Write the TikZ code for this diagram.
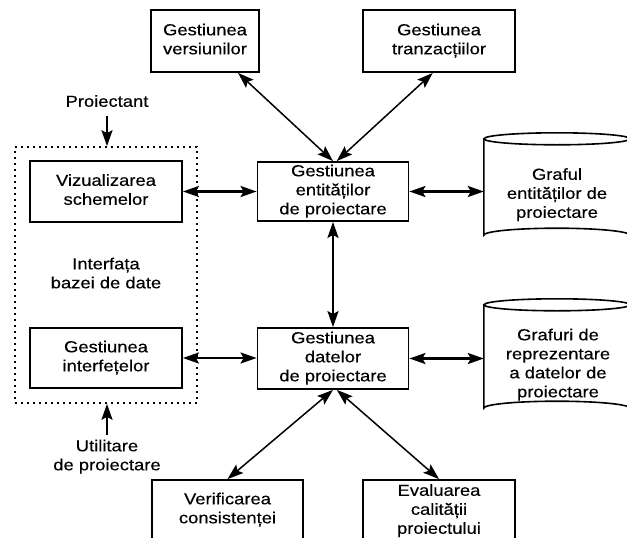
\documentclass[tikz,border=0pt]{standalone}
\usepackage{fontspec}
\setmainfont{Liberation Sans}[FakeBold=0.35]
\usetikzlibrary{arrows.meta}
% centred lines of text, set slightly wide
\newcommand\widelines[1]{\scalebox{1.15}[1]{\begin{tabular}{@{}c@{}}#1\end{tabular}}}

\begin{document}
\begin{tikzpicture}[x=1pt,y=-1pt,
  txt/.style={align=center, inner sep=0pt, font=\fontsize{16}{19}\selectfont},
  box/.style={txt, draw, line width=1.8pt},
  lbl/.style={txt, inner sep=3pt},
  group/.style={draw, line width=1.6pt, dash pattern=on 1.6pt off 4.4pt},
  conn/.style={line width=2.2pt, {Stealth[length=16pt, width=11pt, inset=3pt]}-{Stealth[length=16pt, width=11pt, inset=3pt]}},
  single/.style={line width=2.2pt, -{Stealth[length=16pt, width=11pt, inset=3pt]}},
  diag/.style={line width=1.5pt, {Stealth[length=16pt, width=11pt, inset=3pt]}-{Stealth[length=16pt, width=11pt, inset=3pt]}},
  store/.style={line width=1.6pt}
]
\useasboundingbox (0,0) rectangle (627,538);
\clip (0,0) rectangle (627,538);

% database interface group
\node[group, txt, minimum width=182, minimum height=256] (iface) at (106,275) {\widelines{Interfața\\bazei de date}};

% boxes
\node[box, minimum width=108, minimum height=62] (ver) at (205,41) {\widelines{Gestiunea\\versiunilor}};
\node[box, minimum width=152, minimum height=62] (tr) at (439,41) {\widelines{Gestiunea\\tranzacțiilor}};
\node[box, minimum width=151, minimum height=59] (ent) at (333,191.5) {\widelines{Gestiunea\\entităților\\de proiectare}};
\node[box, minimum width=151, minimum height=61] (dat) at (333,358.5) {\widelines{Gestiunea\\datelor\\de proiectare}};
\node[box, minimum width=152, minimum height=61] (viz) at (106,191.5) {\widelines{Vizualizarea\\schemelor}};
\node[box, minimum width=152, minimum height=60] (inf) at (106,358) {\widelines{Gestiunea\\interfețelor}};
\node[box, minimum width=151, minimum height=60] (chk) at (227.5,510) {\widelines{Verificarea\\consistenței}};
\node[box, minimum width=152, minimum height=62] (qual) at (439,511) {\widelines{Evaluarea\\calității\\proiectului}};

% outside labels
\node[lbl] (proj) at (107,103) {\widelines{Proiectant}};
\node[lbl] (util) at (107,457) {\widelines{Utilitare\\de proiectare}};

% graph stores (cylinders)
\node[minimum width=146, minimum height=96, inner sep=0pt] (cylA) at (557,187) {};
\node[minimum width=146, minimum height=103, inner sep=0pt] (cylB) at (557,356.5) {};
\foreach \c in {cylA,cylB}{
  \draw[store] (\c.north) ellipse [x radius=73, y radius=6];
  \draw[store] (\c.north west) -- (\c.south west)
    arc[start angle=180, end angle=360, x radius=73, y radius=7] -- (\c.north east);
}
\node[txt] (cylAtext) at (557,195) {\widelines{Graful\\entităților de\\proiectare}};
\node[txt] (cylBtext) at (558,365) {\widelines{Grafuri de\\reprezentare\\a datelor de\\proiectare}};

% connectors
\draw[single] (proj.south) -- (proj.south |- iface.north);
\draw[single] (util.north) -- (util.north |- iface.south);
\draw[conn] (viz.east) -- (ent.west);
\draw[conn] (inf.east) -- (inf.east -| dat.west);
\draw[conn] (ent.east) -- (ent.east -| cylA.west);
\draw[conn] (dat.east) -- (dat.east -| cylB.west);
\draw[conn] (ent.south) -- (dat.north);
\draw[diag] (ver.-44) -- (ent.90);
\draw[diag] (tr.-101) -- (ent.83);
\draw[diag] (dat.-90) -- (chk.north);
\draw[diag] (dat.-83) -- (qual.north);
\end{tikzpicture}
\end{document}
